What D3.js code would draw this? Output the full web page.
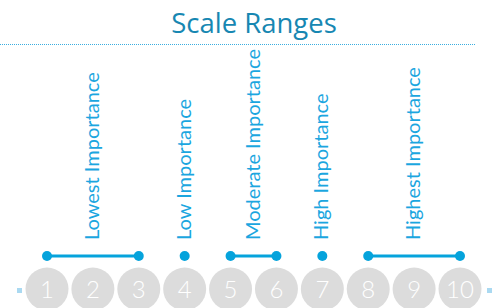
<!DOCTYPE html>
<html>
<head>
<meta charset="utf-8">
<script src="https://cdn.jsdelivr.net/npm/d3@7"></script>
<style>
  body { margin: 0; background: #fff; }
  svg { display: block; }
</style>
</head>
<body>
<svg id="chart"></svg>
<script>
// scale values 1..10 and the importance ranges over them
const scaleValues = [1, 2, 3, 4, 5, 6, 7, 8, 9, 10];
const rangeLabels = ["Lowest Importance", "Low Importance", "Moderate Importance", "High Importance", "Highest Importance"];
const rangeStart = [1, 4, 5, 7, 8];
const rangeEnd = [3, 4, 6, 7, 10];

const width = 492, height = 308;
const blue = "#05a3dc";

const svg = d3.select("#chart")
   .attr("width", width)
   .attr("height", height);

const x = d3.scaleLinear()
   .domain([1, 10])
   .range([47, 460]);

const ranges = rangeLabels.map((l, i) => ({label: l, start: rangeStart[i], end: rangeEnd[i]}));

//title
svg.append("text")
   .attr("x", 254)
   .attr("y", 33)
   .attr("text-anchor", "middle")
   .attr("font-family", "'Open Sans', sans-serif")
   .attr("font-size", 27.5)
   .attr("fill", "#1787b2")
   .text("Scale Ranges");

svg.append("line")
   .attr("x1", 0).attr("x2", 476)
   .attr("y1", 44.5).attr("y2", 44.5)
   .attr("stroke", "#3aaee0")
   .attr("stroke-width", 1)
   .attr("stroke-dasharray", "1,1");

//little squares at the ends
svg.selectAll("rect.end")
   .data([0, 1])
   .enter().append("rect")
      .attr("class", "end")
      .attr("x", d => d ? 487 : 17)
      .attr("y", 288)
      .attr("width", 5)
      .attr("height", 5)
      .attr("fill", "#aad9f1");

//number circles
const nums = svg.append("g")
   .selectAll("g")
   .data(scaleValues)
   .enter().append("g")
      .attr("transform", d => `translate(${x(d)},289)`);

nums.append("circle")
   .attr("r", 21.5)
   .attr("fill", "#dcdcdc");

nums.append("text")
   .attr("text-anchor", "middle")
   .attr("y", 9)
   .attr("font-family", "Lato, sans-serif")
   .attr("font-weight", 300)
   .attr("font-size", 24)
   .attr("fill", "#fff")
   .text(d => d);

//range lines + dots
svg.append("g")
   .selectAll("line")
   .data(ranges.filter(r => r.start != r.end))
   .enter().append("line")
      .attr("x1", r => x(r.start))
      .attr("x2", r => x(r.end))
      .attr("y1", 256).attr("y2", 256)
      .attr("stroke", blue)
      .attr("stroke-width", 3);

const dots = [];
ranges.forEach(r => {
   dots.push(r.start);
   if (r.end != r.start) dots.push(r.end);
});

svg.append("g")
   .selectAll("circle")
   .data(dots)
   .enter().append("circle")
      .attr("cx", d => x(d))
      .attr("cy", 256)
      .attr("r", 5)
      .attr("fill", blue);

//vertical labels
svg.append("g")
   .selectAll("text")
   .data(ranges)
   .enter().append("text")
      .attr("transform", r => `translate(${x((r.start + r.end) / 2) + 6},240) rotate(-90)`)
      .attr("font-family", "Lato, sans-serif")
      .attr("font-size", 20)
      .attr("fill", "#1ba6df")
      .text(r => r.label);
</script>
</body>
</html>
